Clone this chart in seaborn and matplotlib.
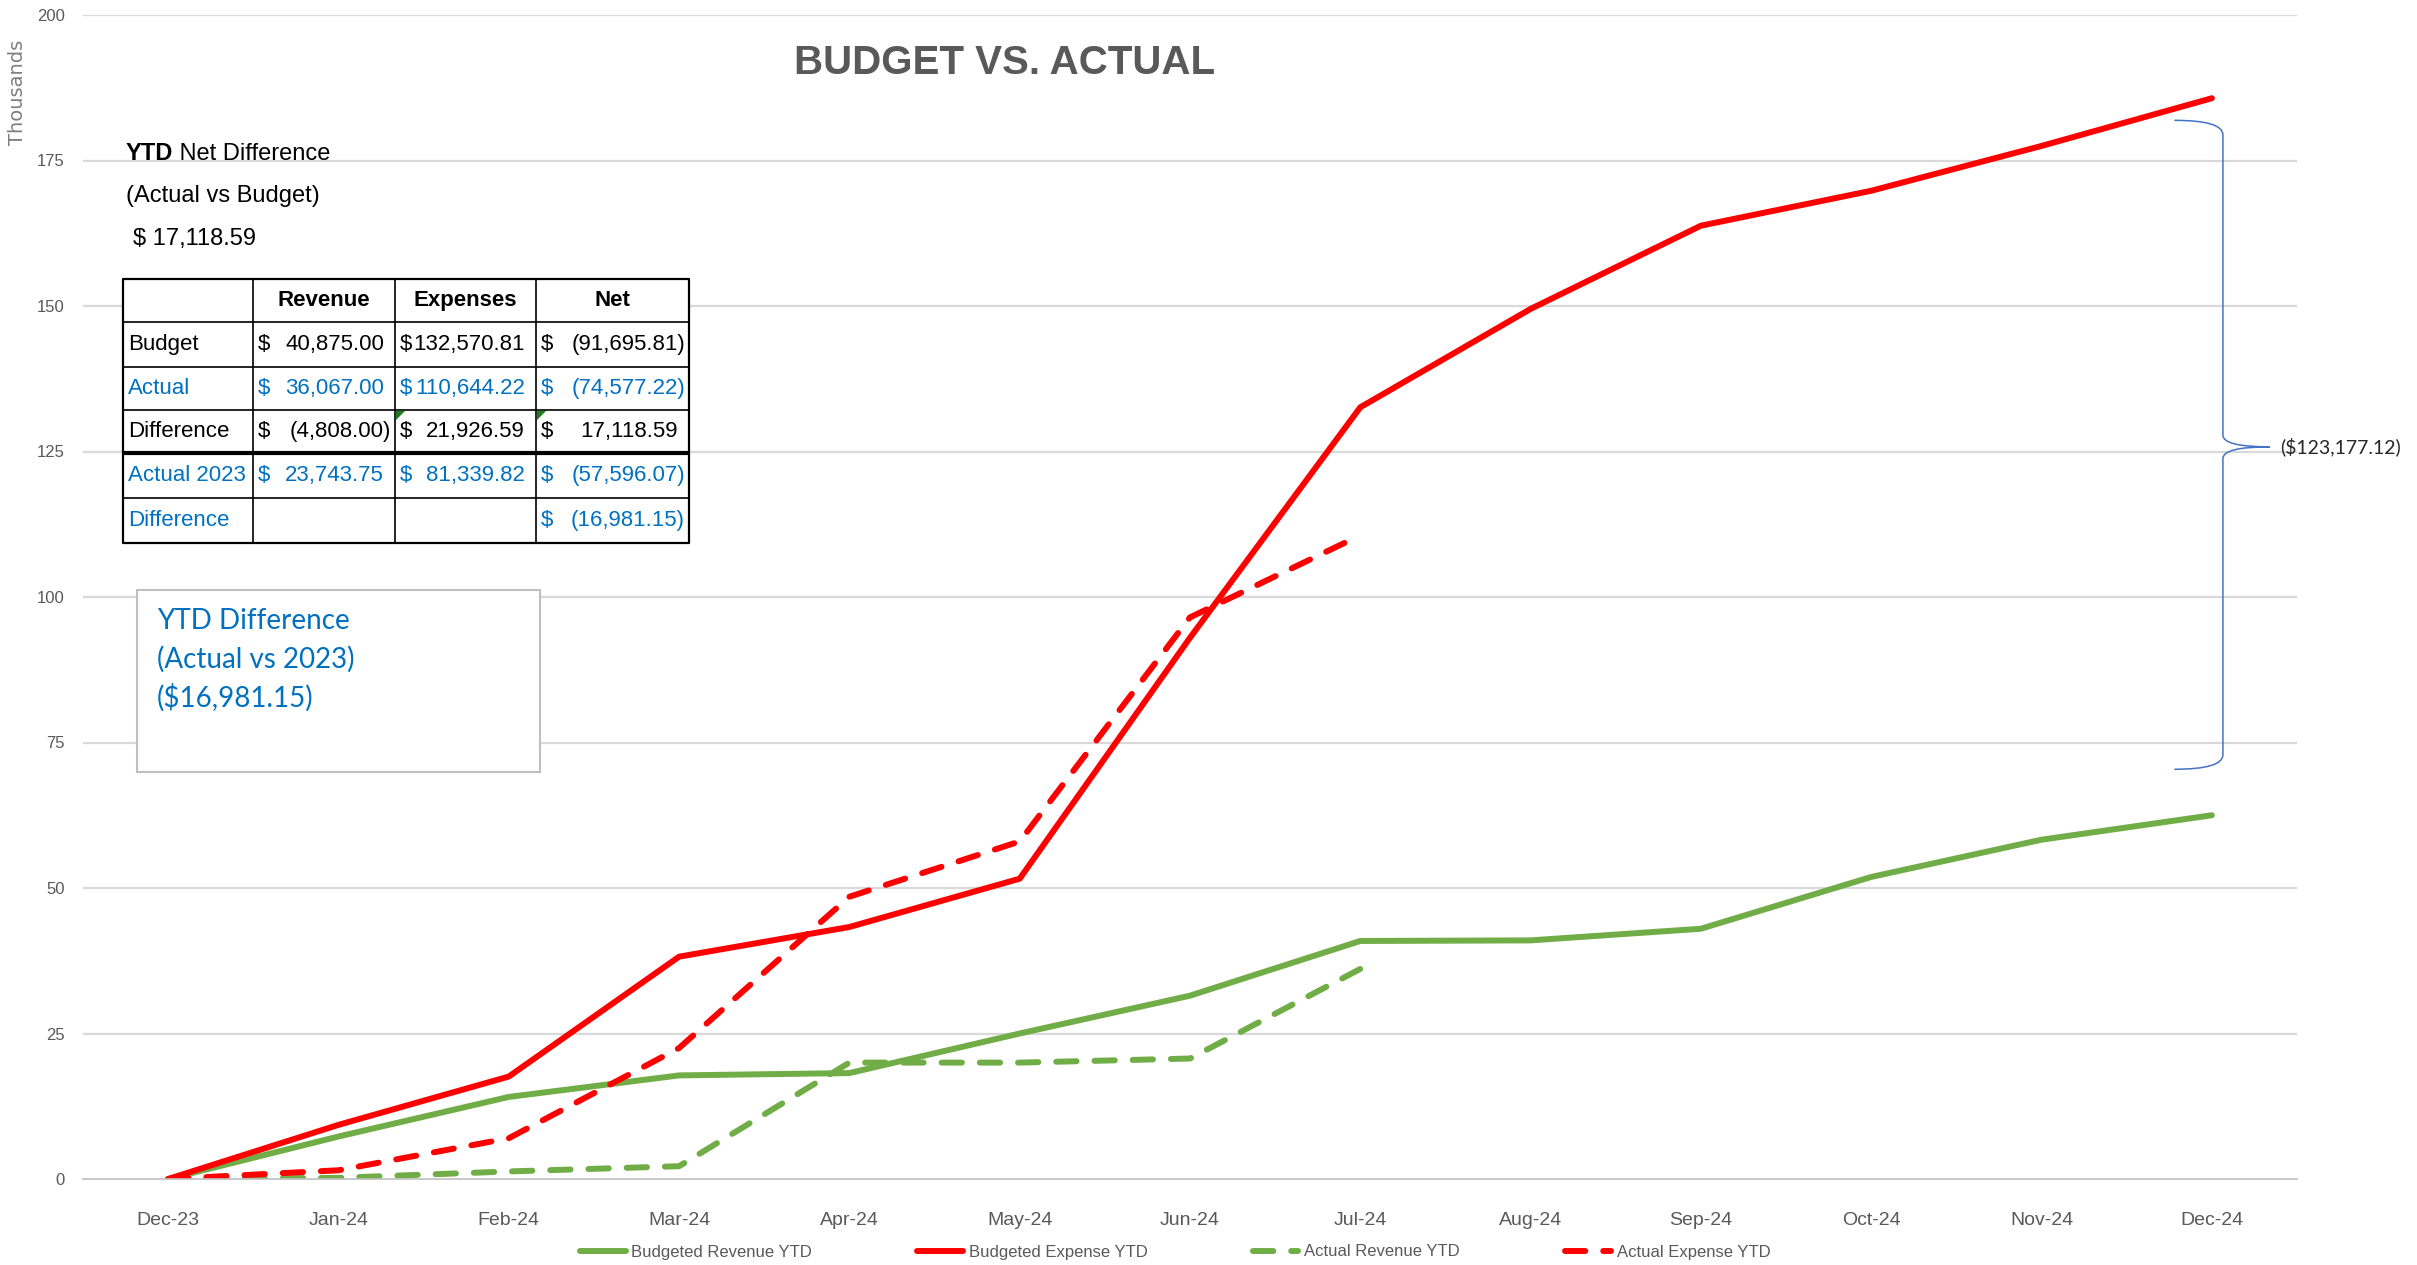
import matplotlib
matplotlib.use("Agg")
import numpy as np
import pandas as pd
import matplotlib.pyplot as plt
from matplotlib.path import Path
from matplotlib.patches import PathPatch, Rectangle, Polygon
from matplotlib.lines import Line2D
import seaborn as sns

# chart data (thousands)
months = ["Dec-23", "Jan-24", "Feb-24", "Mar-24", "Apr-24", "May-24", "Jun-24",
          "Jul-24", "Aug-24", "Sep-24", "Oct-24", "Nov-24", "Dec-24"]
budgeted_revenue = [0, 7.3, 14.1, 17.8, 18.2, 25.0, 31.5, 40.9, 41.0, 43.0, 51.9, 58.3, 62.5]
budgeted_expense = [0, 9.3, 17.6, 38.2, 43.3, 51.6, 93.0, 132.6, 149.5, 163.8, 169.8, 177.5, 185.7]
actual_revenue = [0, 0.2, 1.3, 2.2, 20.0, 20.0, 20.7, 36.1]
actual_expense = [0, 1.5, 7.0, 22.5, 48.5, 58.0, 96.5, 110.6]

series_names = ["Budgeted Revenue YTD", "Budgeted Expense YTD", "Actual Revenue YTD", "Actual Expense YTD"]
series_values = [budgeted_revenue, budgeted_expense, actual_revenue, actual_expense]
yticks = [0, 25, 50, 75, 100, 125, 150, 175, 200]

# summary table
table_cols = ["Revenue", "Expenses", "Net"]
table_rows = ["Budget", "Actual", "Difference", "Actual 2023", "Difference"]
table_vals = [
    [40875.00, 132570.81, -91695.81],
    [36067.00, 110644.22, -74577.22],
    [-4808.00, 21926.59, 17118.59],
    [23743.75, 81339.82, -57596.07],
    [None, None, -16981.15],
]
net_diff_text = "$ 17,118.59"
ytd_box_lines = ["YTD Difference", "(Actual vs 2023)", "($16,981.15)"]
brace_label = "($123,177.12)"

GREEN = "#70AD47"
RED = "#FF0000"
BLUE = "#0070C0"
GREY = "#595959"

frames = []
for name, vals in zip(series_names, series_values):
    frames.append(pd.DataFrame({"idx": range(len(vals)), "value": vals, "series": name}))
df = pd.concat(frames, ignore_index=True)

palette = dict(zip(series_names, [GREEN, RED, GREEN, RED]))
dash_map = dict(zip(series_names, ["", "", (3.4, 3.0), (3.4, 3.0)]))

sns.set_style("white")
plt.rcParams["font.family"] = ["Liberation Sans", "DejaVu Sans"]

W, H = 2417, 1265
fig = plt.figure(figsize=(W / 100, H / 100), dpi=100)
ax = fig.add_axes([83 / W, 1 - 1179 / H, (2297 - 83) / W, (1179 - 15) / H])

sns.lineplot(data=df, x="idx", y="value", hue="series", style="series",
             hue_order=series_names, style_order=series_names,
             palette=palette, dashes=dash_map, linewidth=4.3, sort=False,
             errorbar=None, legend=False, ax=ax,
             dash_capstyle="round", solid_capstyle="round")

ax.set_xlim(-0.5, len(months) - 0.5)
ax.set_ylim(0, 200)
ax.set_yticks(yticks)
ax.set_yticklabels([str(v) for v in yticks], fontsize=12, color=GREY)
ax.set_xticks(range(len(months)))
ax.set_xticklabels(months, fontsize=14, color=GREY)
ax.set_xticks(np.arange(-0.5, len(months), 1.0), minor=True)
ax.tick_params(axis="x", which="major", length=0, pad=24)
ax.tick_params(axis="x", which="minor", length=6, color="#BFBFBF", width=1)
ax.tick_params(axis="y", length=0, pad=13)
ax.set_xlabel("")
ax.set_ylabel("")
ax.grid(axis="y", color="#D9D9D9", linewidth=1.6)
ax.get_ygridlines()[0].set_visible(False)
for s in ["top", "right", "left"]:
    ax.spines[s].set_visible(False)
ax.spines["bottom"].set_color("#BFBFBF")
ax.spines["bottom"].set_linestyle((0, (1, 1)))
ax.spines["bottom"].set_linewidth(1.2)

# brace on the right
bx, lx, tx = 12.065, 11.78, 12.34
top, bot, mid = 181.9, 70.4, 125.8
verts = [(lx, top), (bx, top), (bx, top - 2.5), (bx, mid + 2.0), (bx, mid), (tx, mid),
         (bx, mid), (bx, mid - 2.0), (bx, bot + 2.5), (bx, bot), (lx, bot)]
codes = [Path.MOVETO, Path.CURVE3, Path.CURVE3, Path.LINETO, Path.CURVE3, Path.CURVE3,
         Path.CURVE3, Path.CURVE3, Path.LINETO, Path.CURVE3, Path.CURVE3]
ax.add_patch(PathPatch(Path(verts, codes), fill=False, edgecolor="#4472C4", lw=1.1, clip_on=False))
ax.text(12.40, mid, brace_label, ha="left", va="center", fontsize=14, color="#262626",
        family=["Lato", "DejaVu Sans"], clip_on=False)

# legend
handles = [Line2D([], [], color=palette[n], lw=4.3, linestyle=(0, dash_map[n]) if dash_map[n] else "-",
                  dash_capstyle="round", solid_capstyle="round") for n in series_names]
fig.legend(handles, series_names, loc="center", bbox_to_anchor=(1175 / W, 1 - 1252 / H),
           ncol=4, frameon=False, fontsize=12, labelcolor=GREY, handlelength=2.75,
           handletextpad=0.35, columnspacing=6.3)

# overlay in pixel coordinates for the annotations
ov = fig.add_axes([0, 0, 1, 1])
ov.set_xlim(0, W)
ov.set_ylim(H, 0)
ov.axis("off")
ov.patch.set_alpha(0)
ov.set_zorder(5)

ov.text(1005, 63, "BUDGET VS. ACTUAL", ha="center", va="center", fontsize=29,
        fontweight="bold", color=GREY)
ov.text(18, 92, "Thousands", rotation=90, ha="center", va="center", fontsize=14,
        color="#7F7F7F", family=["DejaVu Sans"])

t_ytd = ov.text(126, 165, "YTD", ha="left", va="bottom", fontsize=17, fontweight="bold", color="black")
ov.annotate(" Net Difference", xy=(1, 0), xycoords=t_ytd, ha="left", va="bottom",
            fontsize=17, color="black")
ov.text(126, 196, "(Actual vs Budget)", ha="left", va="center", fontsize=17, color="black")
ov.text(133, 239, net_diff_text, ha="left", va="center", fontsize=17, color="black")

# table
col_x = [123, 253, 395, 536, 689]
row_y = [279, 322, 367, 410, 453, 498, 543]
row_colors = ["black", BLUE, "black", BLUE, BLUE]
ov.add_patch(Rectangle((col_x[0], row_y[0]), col_x[-1] - col_x[0], row_y[-1] - row_y[0],
                       facecolor="white", edgecolor="none"))


def fmt(v):
    s = f"{abs(v):,.2f}"
    return f"({s})" if v < 0 else s


for j, c in enumerate(table_cols):
    ov.text((col_x[j + 1] + col_x[j + 2]) / 2, (row_y[0] + row_y[1]) / 2, c, ha="center",
            va="center", fontsize=16, fontweight="bold", color="black")
for i, (rname, vals) in enumerate(zip(table_rows, table_vals)):
    yc = (row_y[i + 1] + row_y[i + 2]) / 2
    ov.text(col_x[0] + 5, yc, rname, ha="left", va="center", fontsize=16, color=row_colors[i])
    for j, v in enumerate(vals):
        if v is None:
            continue
        ov.text(col_x[j + 1] + 5, yc, "$", ha="left", va="center", fontsize=16, color=row_colors[i])
        xr = col_x[j + 2] - 4 if v < 0 else col_x[j + 2] - 11
        ov.text(xr, yc, fmt(v), ha="right", va="center", fontsize=16, color=row_colors[i])

for y in row_y:
    lw = 3.0 if y == row_y[4] else (1.6 if y in (row_y[0], row_y[-1]) else 1.2)
    ov.plot([col_x[0], col_x[-1]], [y, y], color="black", lw=lw, solid_capstyle="butt")
for x in col_x:
    ov.plot([x, x], [row_y[0], row_y[-1]], color="black", lw=1.6 if x in (col_x[0], col_x[-1]) else 1.2)
for x in (col_x[2], col_x[3]):
    ov.add_patch(Polygon([(x + 1, row_y[3] + 1), (x + 10, row_y[3] + 1), (x + 1, row_y[3] + 10)],
                         closed=True, facecolor="#1E7B1E", edgecolor="none"))

# text box
ov.add_patch(Rectangle((137, 590), 403, 182, facecolor="white", edgecolor="#BFBFBF", lw=1.5))
for k, line in enumerate(ytd_box_lines):
    ov.text(157, 621 + 38.5 * k, line, ha="left", va="center", fontsize=20, color=BLUE,
            family=["Lato", "DejaVu Sans"])

fig.savefig("out.png", dpi=100)
